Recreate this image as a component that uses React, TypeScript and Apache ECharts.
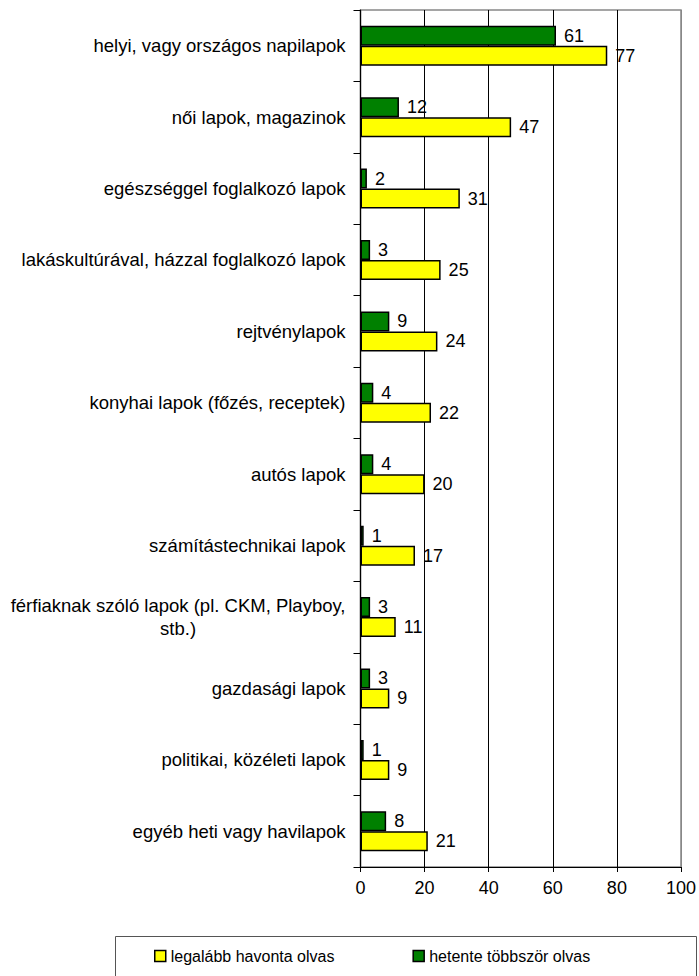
import React, { useEffect, useRef } from "react";
import * as echarts from "echarts";

const categories = [
  "helyi, vagy országos napilapok",
  "női lapok, magazinok",
  "egészséggel foglalkozó lapok",
  "lakáskultúrával, házzal foglalkozó lapok",
  "rejtvénylapok",
  "konyhai lapok (főzés, receptek)",
  "autós lapok",
  "számítástechnikai lapok",
  "férfiaknak szóló lapok (pl. CKM, Playboy,\nstb.)",
  "gazdasági lapok",
  "politikai, közéleti lapok",
  "egyéb heti vagy havilapok",
];

const monthly = [77, 47, 31, 25, 24, 22, 20, 17, 11, 9, 9, 21];
const weekly = [61, 12, 2, 3, 9, 4, 4, 1, 3, 3, 1, 8];

const seriesNames = ["legalább havonta olvas", "hetente többször olvas"];
const xTicks = [0, 20, 40, 60, 80, 100];

const FONT = 'Arial, "Liberation Sans", sans-serif';

export default function App() {
  const ref = useRef<HTMLDivElement>(null);

  useEffect(() => {
    if (!ref.current) return;
    const chart = echarts.init(ref.current, undefined, { renderer: "svg" });
    const labelStyle = {
      show: true,
      position: "right" as const,
      distance: 8,
      color: "#000",
      fontSize: 18,
      fontFamily: FONT,
    };
    chart.setOption({
      animation: false,
      backgroundColor: "#fff",
      textStyle: { fontFamily: FONT },
      grid: {
        left: 360.5,
        right: 18,
        top: 10,
        bottom: 109,
        show: true,
        borderColor: "#888",
        borderWidth: 1.5,
      },
      xAxis: {
        type: "value",
        min: xTicks[0],
        max: xTicks[xTicks.length - 1],
        interval: 20,
        axisLine: { show: true, lineStyle: { color: "#000", width: 1.2 } },
        axisTick: { show: true, length: 5, lineStyle: { color: "#000" } },
        axisLabel: { color: "#000", fontSize: 18, fontFamily: FONT, margin: 12 },
        splitLine: {
          show: true,
          lineStyle: { color: ["#000", "#000", "#000", "#000", "#000", "#888"], width: 1 },
        },
      },
      yAxis: {
        type: "category",
        data: categories,
        inverse: true,
        axisLine: { show: true, lineStyle: { color: "#000", width: 1.2 } },
        axisTick: { show: true, length: 7, lineStyle: { color: "#000" } },
        axisLabel: {
          color: "#000",
          fontSize: 18.5,
          fontFamily: FONT,
          margin: 15,
          lineHeight: 23,
          formatter: (v: string) =>
            v.indexOf("\n") >= 0
              ? v
                  .split("\n")
                  .map((s) => "{c|" + s + "}")
                  .join("\n")
              : v,
          rich: {
            c: { align: "center", fontSize: 18.5, fontFamily: FONT, lineHeight: 23, color: "#000" },
          },
        },
      },
      legend: {
        data: seriesNames,
        left: 154,
        top: 948,
        itemWidth: 11,
        itemHeight: 11,
        itemGap: 78,
        icon: "rect",
        padding: 0,
        textStyle: { color: "#000", fontSize: 16, fontFamily: FONT },
        itemStyle: { borderColor: "#000", borderWidth: 1.5 },
      },
      graphic: [
        {
          type: "rect",
          shape: { x: 115.5, y: 936.5, width: 581, height: 60 },
          style: { fill: "none", stroke: "#555", lineWidth: 1 },
          silent: true,
        },
      ],
      series: [
        {
          name: seriesNames[1],
          type: "bar",
          data: weekly,
          barWidth: 20,
          barGap: "0%",
          itemStyle: { color: "#008000", borderColor: "#000", borderWidth: 1.5 },
          label: labelStyle,
        },
        {
          name: seriesNames[0],
          type: "bar",
          data: monthly,
          barWidth: 20,
          barGap: "0%",
          itemStyle: { color: "#FFFF00", borderColor: "#000", borderWidth: 1.5 },
          label: labelStyle,
        },
      ],
    });
    return () => chart.dispose();
  }, []);

  return (
    <div
      ref={ref}
      style={{ position: "fixed", left: 0, top: 0, width: 699, height: 976 }}
    />
  );
}
